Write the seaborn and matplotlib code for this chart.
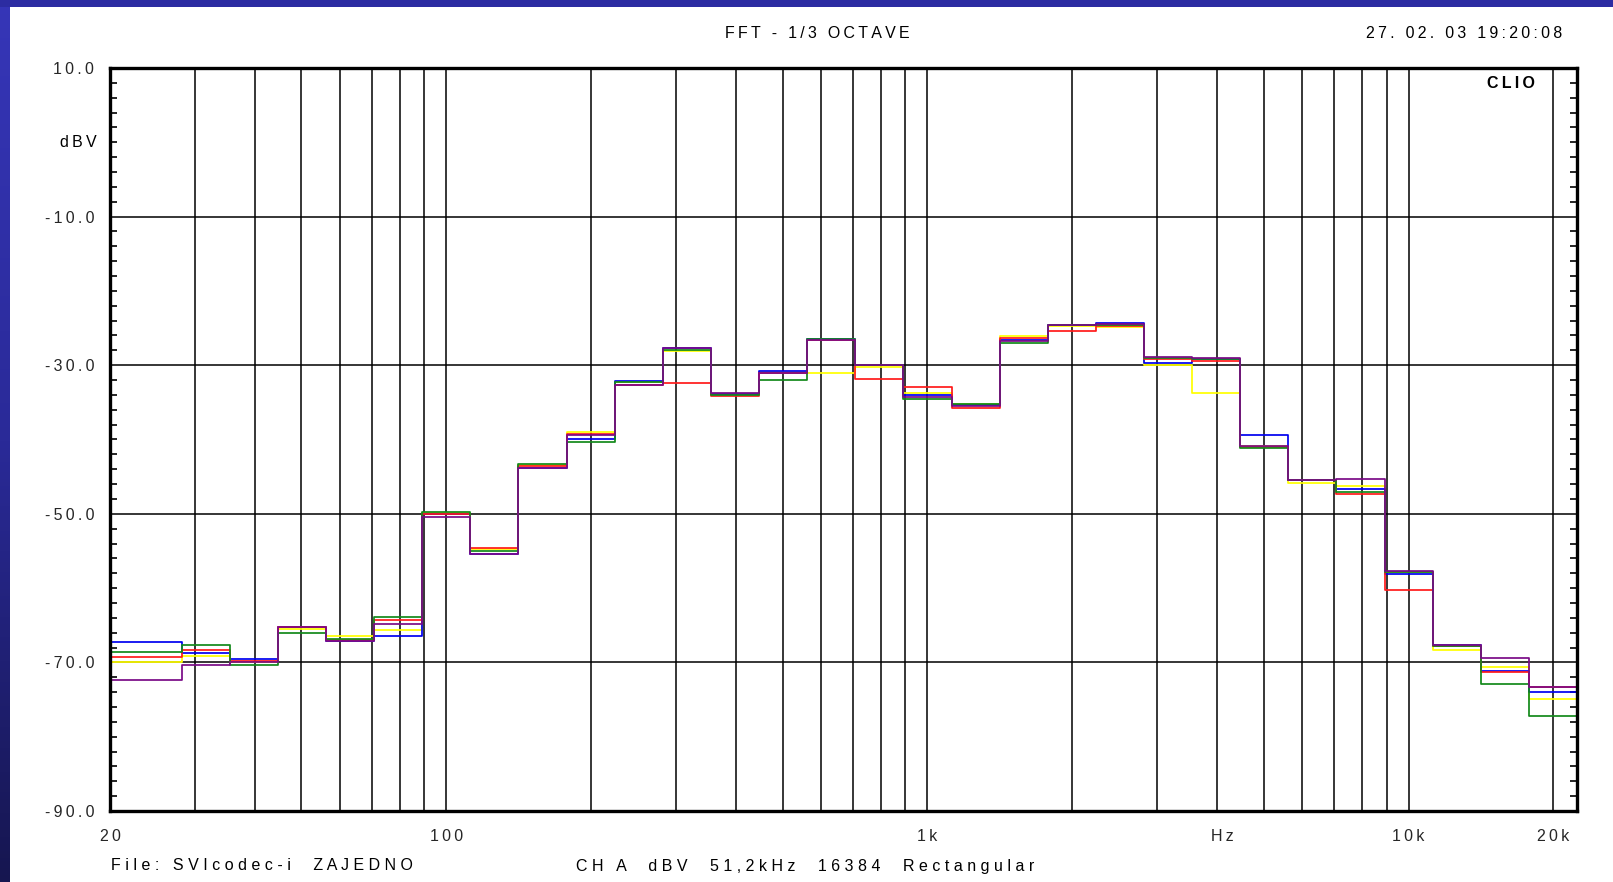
import numpy as np
import pandas as pd
import matplotlib
matplotlib.use("Agg")
import matplotlib.pyplot as plt
import seaborn as sns
from matplotlib.patches import Rectangle
from matplotlib.colors import LinearSegmentedColormap
from matplotlib.ticker import FixedLocator, LogLocator, MultipleLocator, NullFormatter

# 1/3 octave band centres (Hz)
bands = [25, 31.5, 40, 50, 63, 80, 100, 125, 160, 200, 250, 315, 400, 500, 630,
         800, 1000, 1250, 1600, 2000, 2500, 3150, 4000, 5000, 6300, 8000,
         10000, 12500, 16000, 20000]

# levels in dBV
yellow = [-70.0, -69.1, -69.9, -65.5, -66.5, -65.7, -49.9, -54.8, -43.4, -39.0,
          -32.3, -28.1, -33.9, -30.9, -31.0, -30.3, -33.7, -35.2, -26.1, -24.7,
          -24.8, -30.0, -33.8, -40.85, -45.8, -46.3, -57.9, -68.3, -70.6, -74.9]
green = [-68.65, -67.7, -70.35, -66.05, -66.9, -63.9, -49.8, -55.0, -43.3, -40.4,
         -32.3, -28.0, -34.0, -32.0, -26.45, -30.0, -34.6, -35.2, -27.0, -24.6,
         -24.6, -29.0, -29.2, -41.2, -45.5, -47.1, -57.9, -67.8, -72.9, -77.2]
red = [-69.3, -68.3, -69.8, -65.2, -67.0, -64.3, -50.0, -54.6, -43.5, -39.2,
       -32.6, -32.4, -34.1, -31.1, -26.6, -31.9, -33.0, -35.8, -26.4, -25.4,
       -24.7, -29.2, -29.5, -41.0, -45.4, -47.4, -60.3, -67.8, -71.3, -73.3]
blue = [-67.3, -68.75, -69.5, -65.2, -67.1, -66.5, -50.0, -55.4, -43.8, -40.0,
        -32.1, -27.7, -33.9, -30.8, -26.5, -30.0, -34.0, -35.3, -26.6, -24.6,
        -24.35, -29.7, -29.1, -39.4, -45.5, -46.6, -58.1, -67.7, -71.1, -74.0]
purple = [-72.4, -70.35, -70.0, -65.2, -67.1, -64.85, -50.4, -55.4, -43.9, -39.4,
          -32.6, -27.7, -33.8, -31.1, -26.6, -30.0, -34.3, -35.5, -26.8, -24.6,
          -24.5, -28.9, -29.0, -40.9, -45.4, -45.25, -57.7, -67.7, -69.4, -73.3]

traces = {"yellow": yellow, "blue": blue, "red": red, "green": green, "purple": purple}
palette = {"yellow": "#FFFF00", "green": "#12891A", "red": "#FF1A1A",
           "blue": "#0000F0", "purple": "#7A0A86"}

x_ticks = [20, 100, 1000, 4100, 10000, 20000]
x_labels = ["20", "100", "1k", "Hz", "10k", "20k"]
y_ticks = [-90, -70, -50, -30, -10, 10]


def spaced(s, sep="\u2009"):
    # CLIO prints its labels letter-spaced
    return sep.join(s)


# band edges from the nominal centres
n = np.round(10 * np.log10(bands))
lo = 10 ** ((n - 0.5) / 10)
hi = 10 ** ((n + 0.5) / 10)
x_min = 20
lo[0] = x_min
edges = np.append(lo, hi[-1])

rows = []
for name, vals in traces.items():
    for f, v in zip(edges, list(vals) + [vals[-1]]):
        rows.append({"freq": f, "dBV": v, "trace": name})
df = pd.DataFrame(rows)

sns.set_theme(style="white")
plt.rcParams["font.family"] = ["Liberation Sans", "DejaVu Sans"]
plt.rcParams["text.color"] = "black"

fig = plt.figure(figsize=(16.13, 8.82), dpi=100)
fig.patch.set_facecolor("white")
ax = fig.add_axes([110 / 1613, 1 - 811 / 882, 1467 / 1613, 743 / 882])
ax.set_facecolor("white")

sns.lineplot(data=df, x="freq", y="dBV", hue="trace", hue_order=list(traces),
             palette=palette, drawstyle="steps-post", estimator=None, sort=False,
             lw=1.25, legend=False, ax=ax)

ax.set_xscale("log")
ax.set_xlim(x_min, edges[-1])
ax.set_ylim(-90, 10)
ax.set_xlabel("")
ax.set_ylabel("")

# grid: log minor lines in x, 20 dB in y
ax.xaxis.remove_overlapping_locs = False
ax.xaxis.set_major_locator(FixedLocator(x_ticks))
ax.set_xticklabels([spaced(t) for t in x_labels])
ax.xaxis.set_minor_locator(LogLocator(base=10, subs=np.arange(1, 10)))
ax.xaxis.set_minor_formatter(NullFormatter())
ax.yaxis.set_major_locator(FixedLocator(y_ticks))
ax.set_yticklabels([spaced(f"{t:.1f}") for t in y_ticks])
ax.yaxis.set_minor_locator(MultipleLocator(2))

ax.grid(False)
ax.grid(True, which="minor", axis="x", color="black", lw=1.1)
ax.grid(True, which="major", axis="y", color="black", lw=1.1)

ax.tick_params(axis="x", which="both", length=0, labelsize=11.5, pad=13)
ax.tick_params(axis="y", which="major", length=0, labelsize=11.5, pad=11.5)
ax.tick_params(axis="y", which="minor", direction="in", length=5, width=1.2,
               left=True, right=True, color="black")

for s in ax.spines.values():
    s.set_visible(True)
    s.set_color("black")
    s.set_linewidth(2.4)

ax.annotate(spaced("dBV"), xy=(0, 0), xycoords=("axes fraction", "data"),
            xytext=(-9.5, 0), textcoords="offset points", ha="right", va="center",
            fontsize=11.5)
ax.text(1535 / 1613, 1 - 83 / 882, spaced("CLIO"), transform=fig.transFigure,
        ha="right", va="center", fontsize=11.5, fontweight="bold")

fig.text(817 / 1613, 1 - 34 / 882, spaced("FFT - 1/3 OCTAVE"), ha="center",
         va="center", fontsize=11.5)
fig.text(1562 / 1613, 1 - 34 / 882, spaced("27. 02. 03 19:20:08"), ha="right",
         va="center", fontsize=11.5)
fig.text(111 / 1613, 1 - 866 / 882, spaced("File: SVIcodec-i  ZAJEDNO", " "),
         ha="left", va="center", fontsize=11.5)
fig.text(576 / 1613, 1 - 866 / 882,
         spaced("CH A  dBV  51,2kHz  16384  Rectangular", " "),
         ha="left", va="center", fontsize=11.5)

# blue window frame: flat top strip, shaded strip on the left
fig.add_artist(Rectangle((0, 1 - 7 / 882), 1, 7 / 882, transform=fig.transFigure,
                         facecolor="#2C2CA2", edgecolor="none"))
side = fig.add_axes([0, 0, 10 / 1613, 1])
grad = np.linspace(0, 1, 256).reshape(-1, 1)
side.imshow(grad, aspect="auto", cmap=LinearSegmentedColormap.from_list(
    "frame", ["#3636B8", "#2A2A98", "#161650"]))
side.axis("off")

fig.savefig("out.png", dpi=100)
plt.close(fig)
